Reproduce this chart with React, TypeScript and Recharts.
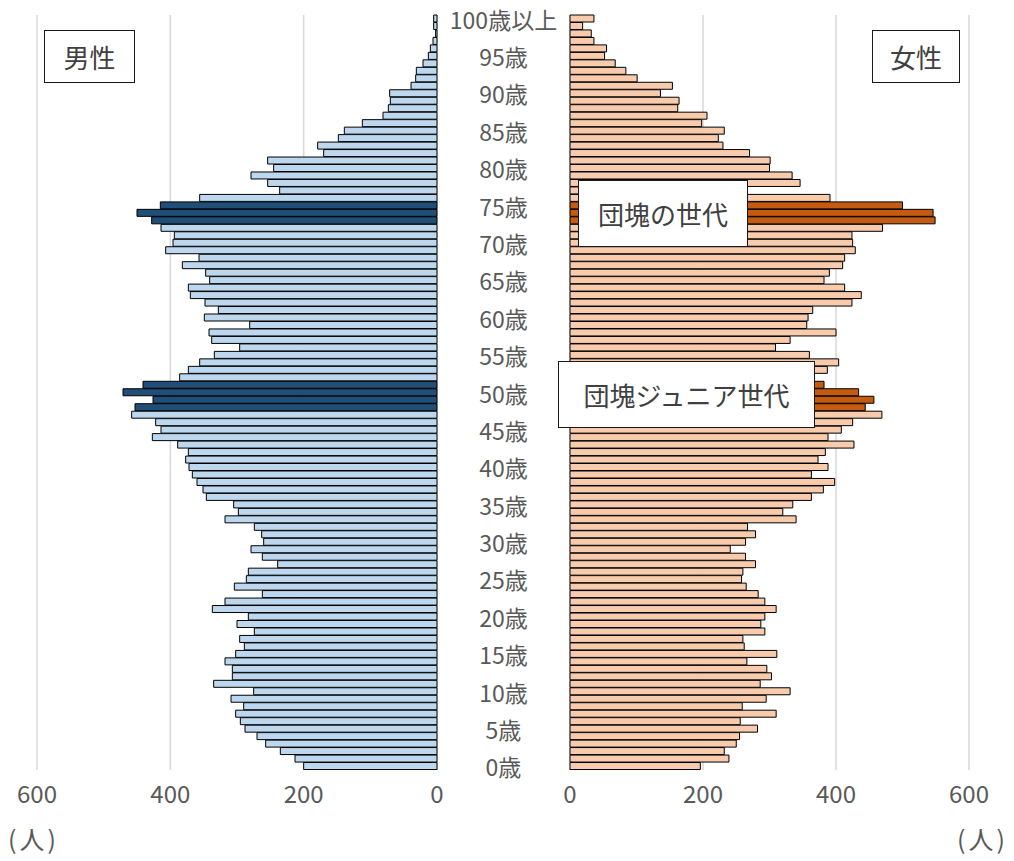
import React from 'react'
import { BarChart, Bar, XAxis, YAxis, CartesianGrid, Cell } from 'recharts'

// 年齢 0..100 (100 = 100歳以上)
const ages = Array.from({ length: 101 }, (_, i) => i)

const maleCounts = [
  200, 213, 235, 257, 270, 288, 295, 302, 290, 309,
  275, 335, 307, 307, 318, 302, 289, 296, 274, 300,
  283, 337, 318, 262, 304, 286, 283, 239, 262, 279,
  260, 263, 274, 318, 298, 305, 346, 351, 360, 367,
  372, 377, 373, 389, 427, 414, 422, 458, 453, 426,
  471, 441, 386, 373, 356, 334, 296, 338, 342, 281,
  349, 328, 348, 370, 373, 341, 347, 382, 357, 407,
  396, 394, 414, 428, 450, 415, 356, 236, 254, 279,
  245, 254, 170, 179, 148, 139, 112, 81, 73, 70,
  71, 39, 32, 31, 21, 13, 10, 6, 2, 5,
  5,
]

const femaleCounts = [
  196, 239, 232, 250, 255, 282, 256, 310, 259, 295,
  331, 286, 303, 296, 266, 311, 262, 260, 293, 287,
  293, 310, 293, 283, 265, 258, 260, 279, 264, 241,
  264, 279, 267, 340, 320, 335, 363, 381, 398, 363,
  388, 373, 384, 427, 388, 408, 425, 469, 444, 457,
  434, 382, 362, 387, 404, 360, 309, 331, 400, 356,
  358, 365, 424, 438, 413, 382, 390, 410, 413, 429,
  425, 424, 470, 549, 546, 500, 391, 262, 346, 334,
  300, 301, 270, 230, 223, 232, 198, 206, 162, 164,
  136, 154, 101, 84, 68, 52, 55, 36, 32, 19,
  36,
]

const boomerAges = [73, 74, 75]
const juniorAges = [48, 49, 50, 51]
const countTicks = [0, 200, 400, 600]

const data = ages.map(a => ({ age: a, male: maleCounts[a], female: femaleCounts[a] }))

const isDark = (age: number) => boomerAges.includes(age) || juniorAges.includes(age)

const FONT = "'Noto Sans CJK JP', 'Noto Sans', sans-serif"
const GRAY = '#595959'
const CENTER_W = 133

function AgeTick(props: any) {
  const { x, y, payload } = props
  const v = payload.value
  if (v % 5 !== 0) return null
  return (
    <text
      x={x + CENTER_W / 2}
      y={y}
      textAnchor="middle"
      dominantBaseline="central"
      fontFamily={FONT}
      fontSize={23}
      fill={GRAY}
    >
      {v === 100 ? '100歳以上' : `${v}歳`}
    </text>
  )
}

const axisTick = { fill: GRAY, fontSize: 24, fontFamily: FONT }

const boxStyle: React.CSSProperties = {
  position: 'absolute',
  boxSizing: 'border-box',
  background: '#fff',
  border: '1.5px solid #1a1a1a',
  display: 'flex',
  alignItems: 'center',
  justifyContent: 'center',
  fontFamily: FONT,
  color: '#404040',
  fontSize: 26,
}

const unitStyle: React.CSSProperties = {
  position: 'absolute',
  top: 820,
  fontSize: 25,
  letterSpacing: 3,
  color: GRAY,
  fontFamily: FONT,
}

export default function App() {
  return (
    <div style={{ position: 'absolute', left: 0, top: 0, width: 1014, height: 861, background: '#fff', fontFamily: FONT }}>
      <div style={{ position: 'absolute', left: 0, top: 0 }}>
        <BarChart
          layout="vertical"
          width={570}
          height={820}
          data={data}
          margin={{ top: 15, right: 0, bottom: 0, left: 37 }}
          barCategoryGap={0}
        >
          <CartesianGrid horizontal={false} stroke="#d9d9d9" strokeWidth={1.5} />
          <XAxis
            type="number"
            domain={[0, 600]}
            ticks={countTicks}
            interval={0}
            reversed
            axisLine={false}
            tickLine={false}
            tick={axisTick}
            tickMargin={10}
            height={50}
          />
          <YAxis
            type="category"
            dataKey="age"
            orientation="right"
            reversed
            width={CENTER_W}
            axisLine={false}
            tickLine={false}
            tickSize={0}
            tickMargin={0}
            interval={0}
            tick={<AgeTick />}
          />
          <Bar dataKey="male" isAnimationActive={false} stroke="#000" strokeWidth={1}>
            {data.map(d => (
              <Cell key={d.age} fill={isDark(d.age) ? '#1f4e79' : '#bdd7ee'} />
            ))}
          </Bar>
        </BarChart>
      </div>

      <div style={{ position: 'absolute', left: 530, top: 0 }}>
        <BarChart
          layout="vertical"
          width={484}
          height={820}
          data={data}
          margin={{ top: 15, right: 45, bottom: 0, left: 40 }}
          barCategoryGap={0}
        >
          <CartesianGrid horizontal={false} stroke="#d9d9d9" strokeWidth={1.5} />
          <XAxis
            type="number"
            domain={[0, 600]}
            ticks={countTicks}
            interval={0}
            axisLine={false}
            tickLine={false}
            tick={axisTick}
            tickMargin={10}
            height={50}
          />
          <YAxis type="category" dataKey="age" reversed hide width={0} />
          <Bar dataKey="female" isAnimationActive={false} stroke="#000" strokeWidth={1}>
            {data.map(d => (
              <Cell key={d.age} fill={isDark(d.age) ? '#c55a11' : '#f8cbad'} />
            ))}
          </Bar>
        </BarChart>
      </div>

      <div style={{ ...boxStyle, left: 44, top: 30, width: 91, height: 53 }}>男性</div>
      <div style={{ ...boxStyle, left: 872, top: 30, width: 88, height: 53 }}>女性</div>
      <div style={{ ...boxStyle, left: 578, top: 180, width: 170, height: 67 }}>団塊の世代</div>
      <div style={{ ...boxStyle, left: 558, top: 361, width: 257, height: 67 }}>団塊ジュニア世代</div>

      <div style={{ ...unitStyle, left: 8 }}>(人)</div>
      <div style={{ ...unitStyle, left: 957 }}>(人)</div>
    </div>
  )
}
